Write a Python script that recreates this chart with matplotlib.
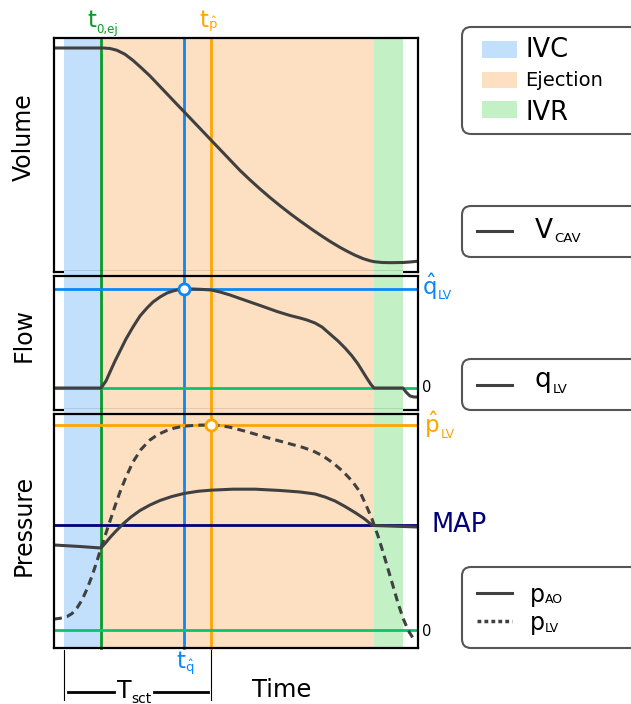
import matplotlib
matplotlib.use("Agg")
import matplotlib.pyplot as plt
from matplotlib.patches import FancyBboxPatch, Rectangle

# ---- cardiac cycle timing (ms) ----
t_ivc_start = 22
t_ej_start = 103
t_q_peak = 286
t_p_peak = 345
t_ej_end = 703
t_ivr_end = 767
t_end = 800

# ---- left ventricular cavity volume (mL) ----
vol_t = [0, 107.7, 123.1, 138.5, 156.0, 173.6, 193.4, 211.0, 230.8, 248.4,
         265.9, 285.7, 303.3, 320.9, 345.1, 364.8, 386.8, 408.8, 430.8, 452.7,
         474.7, 496.7, 518.7, 540.7, 569.2, 589.0, 606.6, 628.6, 644.0, 661.5,
         679.1, 694.5, 703.3, 720.9, 738.5, 767.0, 782.4, 800]
vol = [120.0, 120.0, 119.83, 119.24, 117.92, 115.91, 113.23, 110.75, 107.62,
       104.84, 102.07, 98.97, 96.19, 93.42, 89.59, 86.49, 83.02, 79.55, 76.42,
       73.44, 70.60, 67.90, 65.32, 62.88, 59.84, 57.83, 56.11, 54.13, 52.88,
       51.55, 50.43, 49.71, 49.41, 49.14, 49.08, 49.14, 49.31, 49.57]

# ---- left ventricular outflow (mL/s) ----
flow_t = [0, 103.3, 114.3, 123.1, 134.1, 145.1, 158.2, 173.6, 189.0, 204.4,
          217.6, 233.0, 248.4, 261.5, 276.9, 285.7, 303.3, 320.9, 345.1, 364.8,
          386.8, 408.8, 430.8, 459.3, 490.1, 518.7, 540.7, 556.0, 573.6, 589.0,
          606.6, 624.2, 639.6, 655.0, 668.1, 679.1, 688.0, 696.7, 703.3, 767.0,
          773.6, 782.4, 791.2, 800]
flow = [0, 0, 28.3, 64.6, 109.1, 149.5, 198.0, 246.5, 290.9, 323.2, 347.5,
        367.7, 383.8, 391.9, 399.2, 400.0, 400.0, 398.8, 396.0, 387.9, 375.8,
        361.6, 347.5, 329.3, 309.1, 292.9, 282.8, 274.7, 262.6, 246.5, 218.2,
        189.9, 161.6, 129.3, 97.0, 64.6, 38.4, 14.1, 0, 0, -16.2, -32.3, -36.4,
        -36.4]
q_peak = 400

# ---- aortic pressure (mmHg) ----
pao_t = [0, 57.1, 103.3, 112.1, 123.1, 136.3, 151.6, 169.2, 189.0, 211.0,
         233.0, 259.3, 285.7, 316.5, 345.1, 393.4, 441.8, 496.7, 540.7, 573.6,
         595.6, 617.6, 639.6, 661.5, 681.3, 698.9, 703.3, 767.0, 800]
pao = [49.76, 48.88, 48.0, 50.63, 54.15, 57.95, 62.05, 66.15, 69.95, 73.17,
       75.81, 78.15, 79.90, 81.19, 81.83, 82.42, 82.42, 81.66, 80.78, 79.61,
       77.85, 75.51, 72.29, 68.78, 65.27, 61.46, 61.17, 60.59, 60.29]

# ---- left ventricular pressure (mmHg) ----
plv_t = [0, 13.2, 28.6, 39.6, 50.5, 61.5, 72.5, 83.5, 94.5, 103.3, 112.1,
         123.1, 134.1, 145.1, 158.2, 173.6, 191.2, 211.0, 228.6, 248.4, 265.9,
         285.7, 316.5, 345.1, 364.8, 386.8, 422.0, 459.3, 503.3, 547.3, 569.2,
         591.2, 613.2, 635.2, 655.0, 672.5, 685.7, 698.9, 712.1, 723.1, 734.1,
         745.1, 756.0, 767.0, 778.0, 789.0]
plv = [6.44, 6.85, 7.90, 9.66, 12.88, 17.56, 24.0, 31.61, 40.39, 48.0, 55.02,
       63.81, 72.59, 80.78, 89.56, 98.34, 105.66, 111.22, 114.44, 116.78,
       118.24, 119.30, 119.88, 120.0, 119.65, 118.66, 116.20, 113.27, 110.05,
       106.83, 104.78, 101.85, 97.76, 92.78, 87.22, 80.78, 73.17, 64.98, 55.02,
       45.66, 35.71, 25.76, 15.80, 7.02, 0.0, -4.68]
p_peak = 120
map_value = 61.5

# ---- colours ----
C_IVC = "#c2e0fc"
C_EJ = "#fde0c2"
C_IVR = "#c3f0c4"
C_T0 = "#0a9a28"
C_TQ = "#0a88f7"
C_TP = "#ffa500"
C_ZERO = "#0ac46c"
C_MAP = "#000078"
C_CURVE = "#404040"
LW = 2.2

fig = plt.figure(figsize=(6.31, 7.04), dpi=100)
W, H = 631, 704


def add_panel(top_px, bottom_px):
    return fig.add_axes([54 / W, 1 - bottom_px / H, 364 / W,
                         (bottom_px - top_px) / H])


ax_v = add_panel(38, 272)
ax_q = add_panel(276, 410)
ax_p = add_panel(414, 648)

ax_v.set_ylim(46.0, 123.3)
ax_q.set_ylim(-88.9, 452.5)
ax_p.set_ylim(-10.5, 126.4)

ext = {ax_v: (-0.02, 1.0), ax_q: (-0.035, 1.035), ax_p: (0.0, 1.02)}
for ax in (ax_v, ax_q, ax_p):
    lo, hi = ext[ax]
    ax.set_xlim(0, t_end)
    ax.set_xticks([])
    ax.set_yticks([])
    for s in ax.spines.values():
        s.set_linewidth(1.6)
        s.set_zorder(6)
    ax.axvspan(t_ivc_start, t_ej_start, lo, hi, color=C_IVC, lw=0,
               clip_on=False, zorder=0)
    ax.axvspan(t_ej_start, t_ej_end, lo, hi, color=C_EJ, lw=0,
               clip_on=False, zorder=0)
    ax.axvspan(t_ej_end, t_ivr_end, lo, hi, color=C_IVR, lw=0,
               clip_on=False, zorder=0)
    ax.axvline(t_ej_start, lo, hi, color=C_T0, lw=2, clip_on=False, zorder=1.5)
    ax.axvline(t_q_peak, lo, hi, color=C_TQ, lw=2, clip_on=False, zorder=1.5)
    ax.axvline(t_p_peak, lo, hi, color=C_TP, lw=2, clip_on=False, zorder=1.5)

curve_kw = dict(color=C_CURVE, lw=LW, zorder=3, solid_joinstyle="round",
                solid_capstyle="round")

# volume
ax_v.plot(vol_t, vol, **curve_kw)

# flow
ax_q.axhline(q_peak, color=C_TQ, lw=2, zorder=2)
ax_q.axhline(0, color=C_ZERO, lw=2, zorder=2)
ax_q.plot(flow_t, flow, **curve_kw)
ax_q.plot([t_q_peak], [q_peak], "o", ms=8, mfc="white", mec=C_TQ, mew=2,
          zorder=5)

# pressure
ax_p.axhline(p_peak, color=C_TP, lw=2, zorder=2)
ax_p.axhline(map_value, color=C_MAP, lw=2, zorder=2)
ax_p.axhline(0, color=C_ZERO, lw=2, zorder=2)
ax_p.plot(pao_t, pao, **curve_kw)
ax_p.plot(plv_t, plv, color=C_CURVE, lw=LW, ls=(0, (2.6, 1.7)), zorder=3)
ax_p.plot([t_p_peak], [p_peak], "o", ms=8, mfc="white", mec=C_TP, mew=2,
          zorder=5)

# T_sct bracket under the pressure panel
bt = ax_p.get_xaxis_transform()
ax_p.plot([t_ivc_start, t_ivc_start], [-0.01, -0.222], color="black", lw=0.8,
          transform=bt, clip_on=False)
ax_p.plot([t_p_peak, t_p_peak], [-0.01, -0.222], color="black", lw=0.8,
          transform=bt, clip_on=False)
ax_p.plot([t_ivc_start + 9, 132], [-0.188, -0.188], color="black", lw=2,
          transform=bt, clip_on=False)
ax_p.plot([220, t_p_peak - 7], [-0.188, -0.188], color="black", lw=2,
          transform=bt, clip_on=False)

# ---- overlay in pixel units for labels and legend boxes ----
ov = fig.add_axes([0, 0, 1, 1], zorder=10)
ov.set_xlim(0, W)
ov.set_ylim(H, 0)
ov.set_axis_off()


def sub_label(x, y, base, sub, size, sub_size, color, dx=0.5, dy=-4):
    t = ov.text(x, y, base, fontsize=size, color=color, ha="left",
                va="baseline")
    ov.annotate(sub, xy=(1, y), xycoords=(t, "data"), xytext=(dx, dy),
                textcoords="offset pixels", fontsize=sub_size, color=color,
                ha="left", va="baseline")
    return t


# axis titles
for label, yc in (("Volume", 137), ("Flow", 335), ("Pressure", 525)):
    ov.text(24, yc, label, rotation=90, fontsize=17, ha="center", va="center")
ov.text(252, 697, "Time", fontsize=17.5, ha="left", va="baseline")
sub_label(117, 698, "T", "sct", 17, 10, "black", dx=0, dy=-5)

# time markers
sub_label(87, 27, "t", "0,ej", 16.5, 8.5, C_T0, dx=0, dy=-6)
sub_label(199, 27, "t", r"$\mathregular{\hat{p}}$", 16.5, 9.5, C_TP, dx=0,
          dy=-2)
sub_label(176, 668, "t", r"$\mathregular{\hat{q}}$", 16.5, 9.5, C_TQ, dx=0,
          dy=-4)

# right-hand level labels
sub_label(422, 295, r"$\mathregular{\hat{q}}$", "LV", 16.5, 9, C_TQ, dx=1,
          dy=-4)
sub_label(424, 433, r"$\mathregular{\hat{p}}$", "LV", 16.5, 9, C_TP, dx=1,
          dy=-5)
ov.text(432, 532, "MAP", fontsize=18.5, color=C_MAP, ha="left", va="baseline")
ov.text(422, 388, "0", fontsize=10.5, ha="left", va="center")
ov.text(422, 631, "0", fontsize=10.5, ha="left", va="center")


# legend boxes
def legend_box(top, bottom):
    ov.add_patch(FancyBboxPatch((462, top), 200, bottom - top,
                                boxstyle="round,pad=0,rounding_size=9",
                                fc="white", ec="#555555", lw=1.5, zorder=1))


legend_box(27, 134)
phases = [("IVC", C_IVC, 41, 57, 18.5), ("Ejection", C_EJ, 71.5, 86, 14),
          ("IVR", C_IVR, 101, 119.5, 18.5)]
for name, col, ptop, base, fs in phases:
    ov.add_patch(Rectangle((482, ptop), 35, 16.5, fc=col, ec="none", zorder=2))
    ov.text(525, base, name, fontsize=fs, ha="left", va="baseline", zorder=3)

legend_box(206, 257)
ov.plot([477, 512], [231, 231], color=C_CURVE, lw=LW, zorder=2)
sub_label(535, 238, "V", "CAV", 19, 9.5, "black", dx=1, dy=-4)

legend_box(359, 410)
ov.plot([477, 512], [385, 385], color=C_CURVE, lw=LW, zorder=2)
sub_label(535, 387, "q", "LV", 19, 9.5, "black", dx=1, dy=-6)

legend_box(567, 648)
ov.plot([477, 512], [593, 593], color=C_CURVE, lw=LW, zorder=2)
ov.plot([477, 512], [621, 621], color=C_CURVE, lw=2.5, ls=(0, (1.1, 0.9)),
        zorder=2)
sub_label(530, 602, "p", "AO", 17, 9, "black", dx=0, dy=-1)
sub_label(530, 630, "p", "LV", 17, 9, "black", dx=0, dy=-2)

fig.savefig("out.png", dpi=100)
